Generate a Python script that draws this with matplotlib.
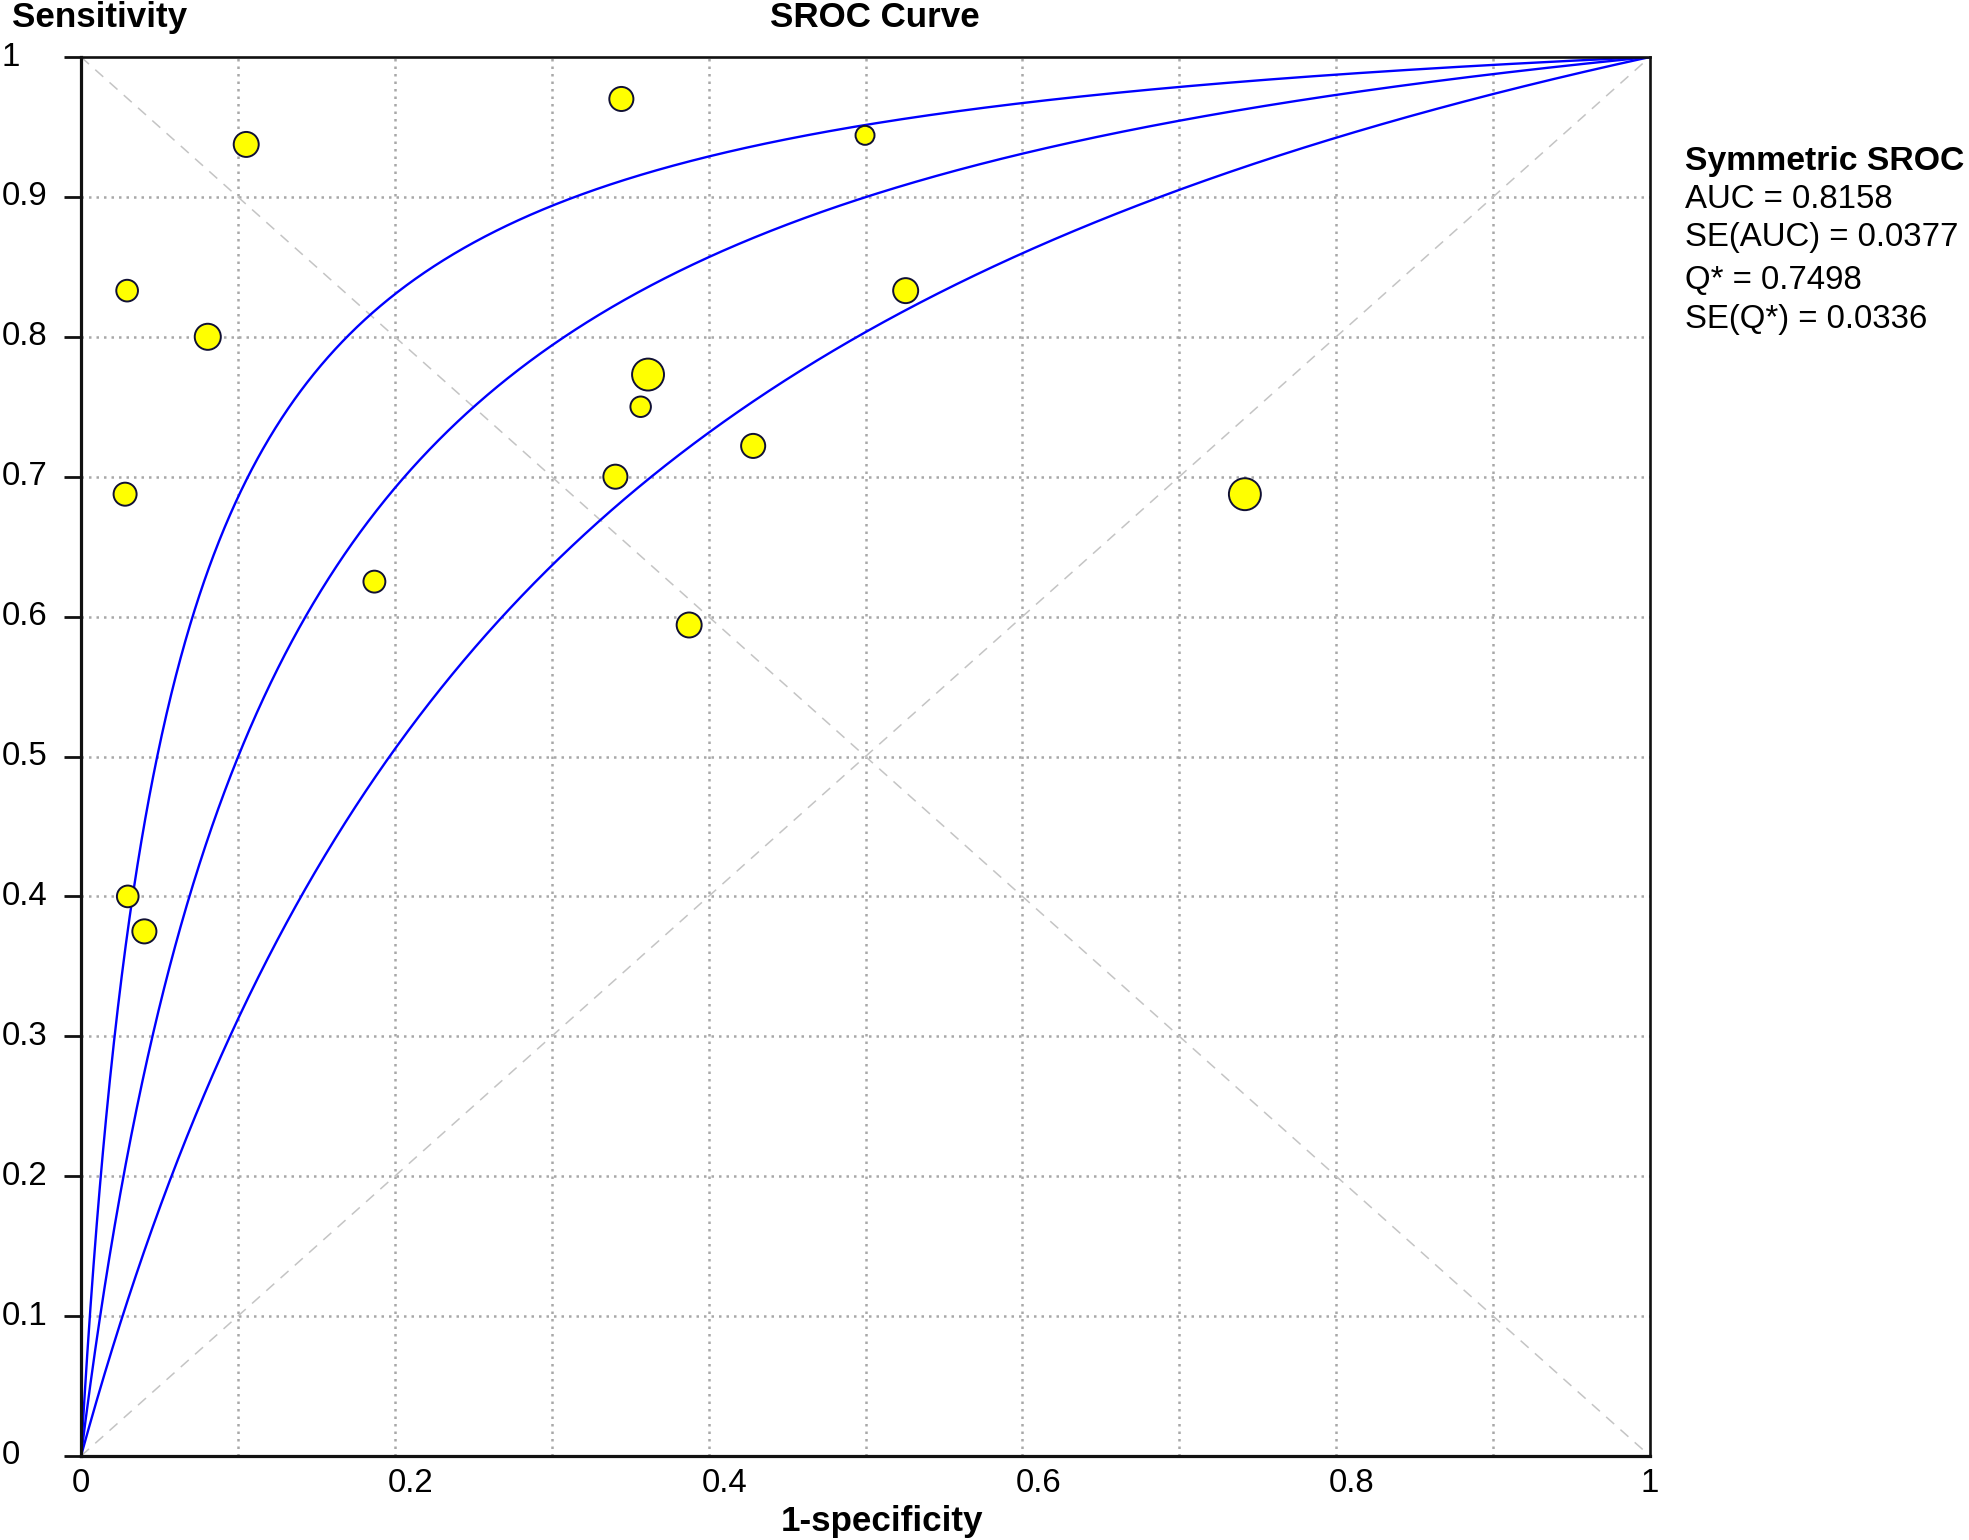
import numpy as np
import matplotlib
matplotlib.use("Agg")
import matplotlib.pyplot as plt
from matplotlib.transforms import blended_transform_factory

# ---------------- data ----------------
fpr = [0.3444, 0.1053, 0.4997, 0.0294, 0.0808, 0.5256, 0.3614, 0.3567,
       0.0281, 0.3406, 0.4284, 0.7418, 0.1870, 0.3876, 0.0298, 0.0404]
sens = [0.970, 0.9375, 0.944, 0.833, 0.800, 0.833, 0.773, 0.750,
        0.6875, 0.700, 0.722, 0.6875, 0.625, 0.594, 0.400, 0.375]
study_weight = [5.8, 6.25, 3.6, 4.7, 6.8, 6.25, 10.2, 4.2,
                5.3, 5.8, 5.8, 10.2, 4.8, 6.25, 4.7, 5.8]

# Q* of the SROC curve and of its lower / upper bands
q_values = [0.669, 0.7498, 0.8157]

x_ticks = [0, 0.2, 0.4, 0.6, 0.8, 1.0]
x_tick_labels = ["0", "0.2", "0.4", "0.6", "0.8", "1"]
y_ticks = [0, 0.1, 0.2, 0.3, 0.4, 0.5, 0.6, 0.7, 0.8, 0.9, 1.0]
y_tick_labels = ["0", "0.1", "0.2", "0.3", "0.4", "0.5", "0.6", "0.7", "0.8", "0.9", "1"]
grid_pos = [0.1, 0.2, 0.3, 0.4, 0.5, 0.6, 0.7, 0.8, 0.9]

legend_title = "Symmetric SROC"
legend_lines = ["AUC = 0.8158", "SE(AUC) = 0.0377", "Q* = 0.7498", "SE(Q*) = 0.0336"]

# ---------------- figure ----------------
W, H, DPI = 1969, 1540, 100
plt.rcParams['font.family'] = ['Liberation Sans', 'DejaVu Sans']
fig = plt.figure(figsize=(W / DPI, H / DPI), dpi=DPI)
fig.patch.set_facecolor('white')

ax_l, ax_r, ax_t, ax_b = 81, 1650, 57, 1456
ax = fig.add_axes([ax_l / W, 1 - ax_b / H, (ax_r - ax_l) / W, (ax_b - ax_t) / H])
ax.set_xlim(0, 1)
ax.set_ylim(0, 1)

FS = 23.8
FSB = 25.2

# grid (dotted)
for g in grid_pos:
    ax.axvline(g, color='#a8a8a8', lw=1.8, ls=(0, (1, 2.0)), zorder=1)
    ax.axhline(g, color='#a8a8a8', lw=1.8, ls=(0, (1, 2.0)), zorder=1)

# diagonals (dashed)
ax.plot([0, 1], [0, 1], color='#c4c4c4', lw=1.1, ls=(0, (7, 5.5)), zorder=1.5)
ax.plot([0, 1], [1, 0], color='#c4c4c4', lw=1.1, ls=(0, (7, 5.5)), zorder=1.5)

# SROC curves
xs = np.linspace(0, 1, 2001)
for q in q_values:
    a = 2 * np.log(q / (1 - q))
    ea = np.exp(a)
    ys = xs * ea / (xs * ea + 1 - xs)
    ax.plot(xs, ys, color='#0000ff', lw=1.7, zorder=3, solid_capstyle='round')

# studies
s = [w * 100 / (DPI / 72) ** 2 for w in study_weight]
ax.scatter(fpr, sens, s=s, facecolor='#ffff00', edgecolor='#101035',
           linewidths=1.4, zorder=5, clip_on=False)

# spines
for name, sp in ax.spines.items():
    sp.set_linewidth(2.3 if name in ('left', 'bottom') else 1.9)
    sp.set_color('#111111')
    sp.set_zorder(6)

# ticks
ax.set_xticks(x_ticks)
ax.set_xticklabels([])
ax.set_yticks(y_ticks)
ax.set_yticklabels([])
ax.tick_params(axis='x', length=0)
ax.tick_params(axis='y', length=12, width=2.0, direction='out', color='#111111')

# y tick labels (left aligned at figure edge)
ty = blended_transform_factory(fig.transFigure, ax.transData)
for v, lab in zip(y_ticks, y_tick_labels):
    ax.text(2 / W, v, lab, transform=ty, ha='left', va='center',
            fontsize=FS, color='black', clip_on=False)

# x tick labels
tx = blended_transform_factory(ax.transData, fig.transFigure)
for v, lab in zip(x_ticks, x_tick_labels):
    off = 0.0 if len(lab) == 1 else -7 / (ax_r - ax_l)
    ha = 'center' if len(lab) == 1 else 'left'
    ax.text(v + off, 1 - 1492 / H, lab, transform=tx, ha=ha, va='baseline',
            fontsize=FS, color='black', clip_on=False)

# titles
fig.text(875 / W, 1 - 27 / H, "SROC Curve", ha='center', va='baseline',
         fontsize=FSB, fontweight='bold')
fig.text(12 / W, 1 - 27 / H, "Sensitivity", ha='left', va='baseline',
         fontsize=FSB, fontweight='bold')
fig.text(882 / W, 1 - 1531 / H, "1-specificity", ha='center', va='baseline',
         fontsize=FSB, fontweight='bold')

# legend text
fig.text(1685 / W, 1 - 170 / H, legend_title, ha='left', va='baseline',
         fontsize=24.3, fontweight='bold')
base = [208, 246, 289, 328]
for b, line in zip(base, legend_lines):
    fig.text(1685 / W, 1 - b / H, line, ha='left', va='baseline', fontsize=FS)

fig.savefig("out.png", dpi=DPI, facecolor='white')
